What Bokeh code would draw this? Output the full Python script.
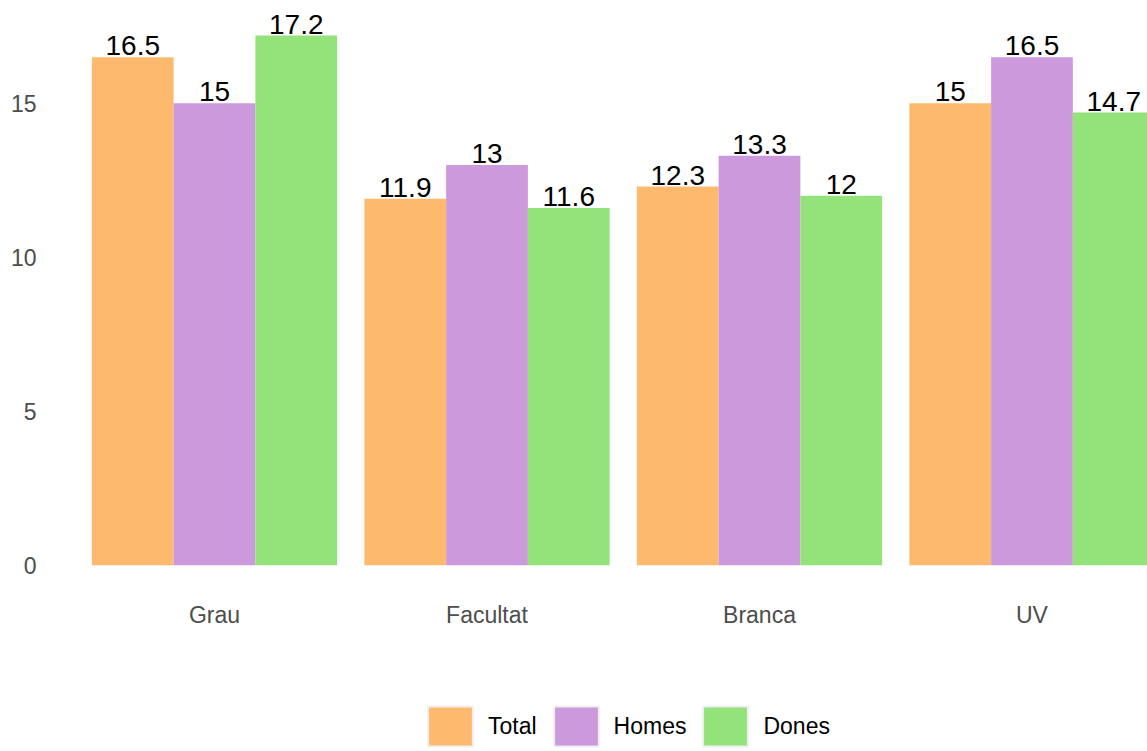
from bokeh.plotting import figure
from bokeh.layouts import column
from bokeh.models import (ColumnDataSource, Range1d, FixedTicker, Legend, LegendItem)
from bokeh.core.properties import value
from bokeh.embed import file_html
from bokeh.resources import INLINE

categories = ["Grau", "Facultat", "Branca", "UV"]
total = [16.5, 11.9, 12.3, 15.0]
homes = [15.0, 13.0, 13.3, 16.5]
dones = [17.2, 11.6, 12.0, 14.7]
series_names = ["Total", "Homes", "Dones"]
series_values = [total, homes, dones]
colors = ["#FDBA6F", "#CC9ADC", "#94E27A"]
y_ticks = [0, 5, 10, 15]

FONT = "Liberation Sans"
bar_w = 0.3
offsets = [-bar_w, 0.0, bar_w]
W = 1147

p = figure(width=W, height=655, output_backend="svg", toolbar_location=None,
           x_range=Range1d(0.4055, 4.4239), y_range=Range1d(-0.656, 18.34),
           min_border_left=52, min_border_right=0, min_border_top=0,
           min_border_bottom=70)
p.outline_line_color = None
p.xgrid.visible = False
p.ygrid.visible = False

xs_base = list(range(1, len(categories) + 1))
sources = []
for name, vals, col, off in zip(series_names, series_values, colors, offsets):
    src = ColumnDataSource(dict(x=[b + off for b in xs_base], top=vals,
                                lab=[f"{v:g}" for v in vals]))
    sources.append(src)
    p.vbar(x="x", top="top", bottom=0, width=bar_w, source=src,
           fill_color=col, line_color=None)
    p.text(x="x", y="top", text="lab", source=src, text_align="center",
           text_baseline="bottom", y_offset=-2, text_font=value(FONT),
           text_font_size="28px", text_color="black")

xa = p.xaxis[0]
xa.ticker = FixedTicker(ticks=xs_base)
xa.major_label_overrides = {b: c for b, c in zip(xs_base, categories)}
ya = p.yaxis[0]
ya.ticker = FixedTicker(ticks=y_ticks)
for ax in (xa, ya):
    ax.axis_line_color = None
    ax.major_tick_line_color = None
    ax.minor_tick_line_color = None
    ax.major_label_text_font = FONT
    ax.major_label_text_font_size = "23px"
    ax.major_label_text_color = "#4D4D4D"
xa.major_label_standoff = 10
ya.major_label_standoff = 10

# legend strip below the plot (proxy renderers are hidden; only their legend keys show)
p2 = figure(width=W, height=96, output_backend="svg", toolbar_location=None,
            x_range=Range1d(0, 1), y_range=Range1d(0, 1),
            x_axis_location=None, y_axis_location=None,
            min_border_left=0, min_border_right=0, min_border_top=0,
            min_border_bottom=0)
p2.outline_line_color = None
p2.grid.visible = False
dummies = []
for col, src in zip(colors, sources):
    r = p2.vbar(x="x", top="top", width=bar_w, source=src, fill_color=col,
                line_color="#EFEFEF", line_width=2)
    r.visible = False
    dummies.append(r)

legend = Legend(items=[LegendItem(label=n, renderers=[d]) for n, d in zip(series_names, dummies)],
                location=(370, 0), orientation="horizontal",
                glyph_width=56, glyph_height=50, label_standoff=10, spacing=11,
                padding=0, margin=0, border_line_color=None,
                background_fill_alpha=0, label_text_font=FONT,
                label_text_font_size="23px", label_text_color="black")
p2.add_layout(legend, "center")

open("out.html", "w").write(file_html(column(p, p2, spacing=0), INLINE))
